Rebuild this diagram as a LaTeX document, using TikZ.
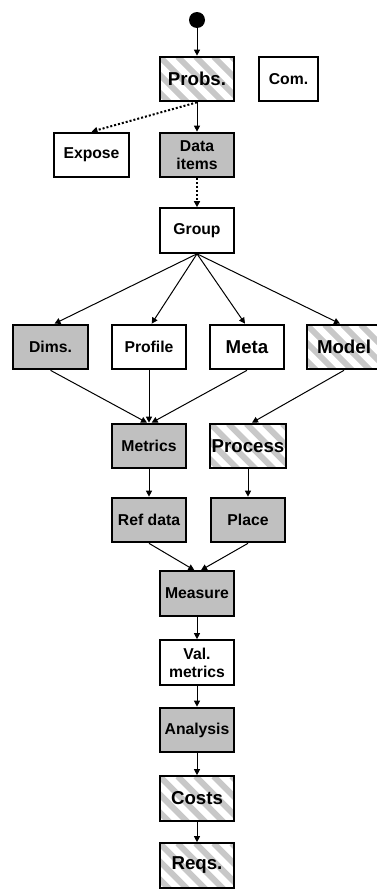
\documentclass[tikz,border=0pt]{standalone}
\usepackage{fontspec}
\setmainfont{Liberation Sans}
\usetikzlibrary{arrows.meta}
\definecolor{boxgray}{HTML}{C0C0C0}
\definecolor{hatchgray}{HTML}{C8C8C8}
\begin{document}
\begin{tikzpicture}[x=0.75pt,y=-0.75pt,
  box/.style={draw, line width=1.5pt, minimum width=56pt, minimum height=33.5pt,
    inner sep=1pt, align=center, font=\bfseries\fontsize{11.8}{13.5}\selectfont},
  greybox/.style={box, fill=boxgray},
  plainbox/.style={box, fill=white},
  bigtext/.style={font=\bfseries\fontsize{14}{15}\selectfont},
  hatchbox/.style={box, fill=white, bigtext,
    path picture={\foreach \k in {-4,...,9}{\draw[line width=4.5pt, hatchgray]
      ([xshift=\k*13.5pt]path picture bounding box.north west) -- ++(45pt,-45pt);}}},
  arr/.style={-{Triangle[length=4.5pt,width=4.5pt]}, line width=0.75pt},
  dotarr/.style={arr, line width=1.5pt, dash pattern=on 1.5pt off 1.5pt}]
\useasboundingbox (0,0) rectangle (376,889);

\node[circle, fill=black, inner sep=0pt, minimum size=12pt] (start) at (197,20) {};
\node[hatchbox] (probs) at (197,79) {Probs.};
\node[plainbox, minimum width=44.5pt] (com) at (288.5,79) {Com.};
\node[plainbox] (expose) at (91.5,155) {Expose};
\node[greybox] (data) at (197,155) {Data\\items};
\node[plainbox] (group) at (197,230.5) {Group};
\node[greybox] (dims) at (50.5,347) {Dims.};
\node[plainbox] (profile) at (149,347) {Profile};
\node[plainbox, bigtext] (meta) at (247,347) {Meta};
\node[hatchbox] (model) at (344,347) {Model};
\node[greybox] (metrics) at (149,446) {Metrics};
\node[hatchbox] (process) at (248,446) {Process};
\node[greybox] (refdata) at (149,520) {Ref data};
\node[greybox] (place) at (248,520) {Place};
\node[greybox] (measure) at (197,593.5) {Measure};
\node[plainbox] (valmetrics) at (197,662.5) {Val.\\metrics};
\node[greybox] (analysis) at (197,730) {Analysis};
\node[hatchbox] (costs) at (197,798.5) {Costs};
\node[hatchbox] (reqs) at (197,865.5) {Reqs.};

\draw[arr] (start) -- (probs);
\draw[arr] (probs) -- (data);
\draw[dotarr] (probs.south) -- (expose.north);
\draw[dotarr] (data) -- (group);
\draw[arr] (group.south) -- ([xshift=3pt]dims.north);
\draw[arr] (group.south) -- ([xshift=2pt]profile.north);
\draw[arr] (group.south) -- ([xshift=-1.5pt]meta.north);
\draw[arr] (group.south) -- ([xshift=-3pt]model.north);
\draw[arr] (dims.south) -- ([xshift=-1.5pt]metrics.north);
\draw[arr] (profile.south) -- (metrics.north);
\draw[arr] (meta.south) -- ([xshift=2pt]metrics.north);
\draw[arr] (model.south) -- ([xshift=3pt]process.north);
\draw[arr] (metrics) -- (refdata);
\draw[arr] (process) -- (place);
\draw[arr] (refdata.south) -- ([xshift=-2pt]measure.north);
\draw[arr] (place.south) -- ([xshift=3pt]measure.north);
\draw[arr] (measure) -- (valmetrics);
\draw[arr] (valmetrics) -- (analysis);
\draw[arr] (analysis) -- (costs);
\draw[arr] (costs) -- (reqs);
\end{tikzpicture}
\end{document}
